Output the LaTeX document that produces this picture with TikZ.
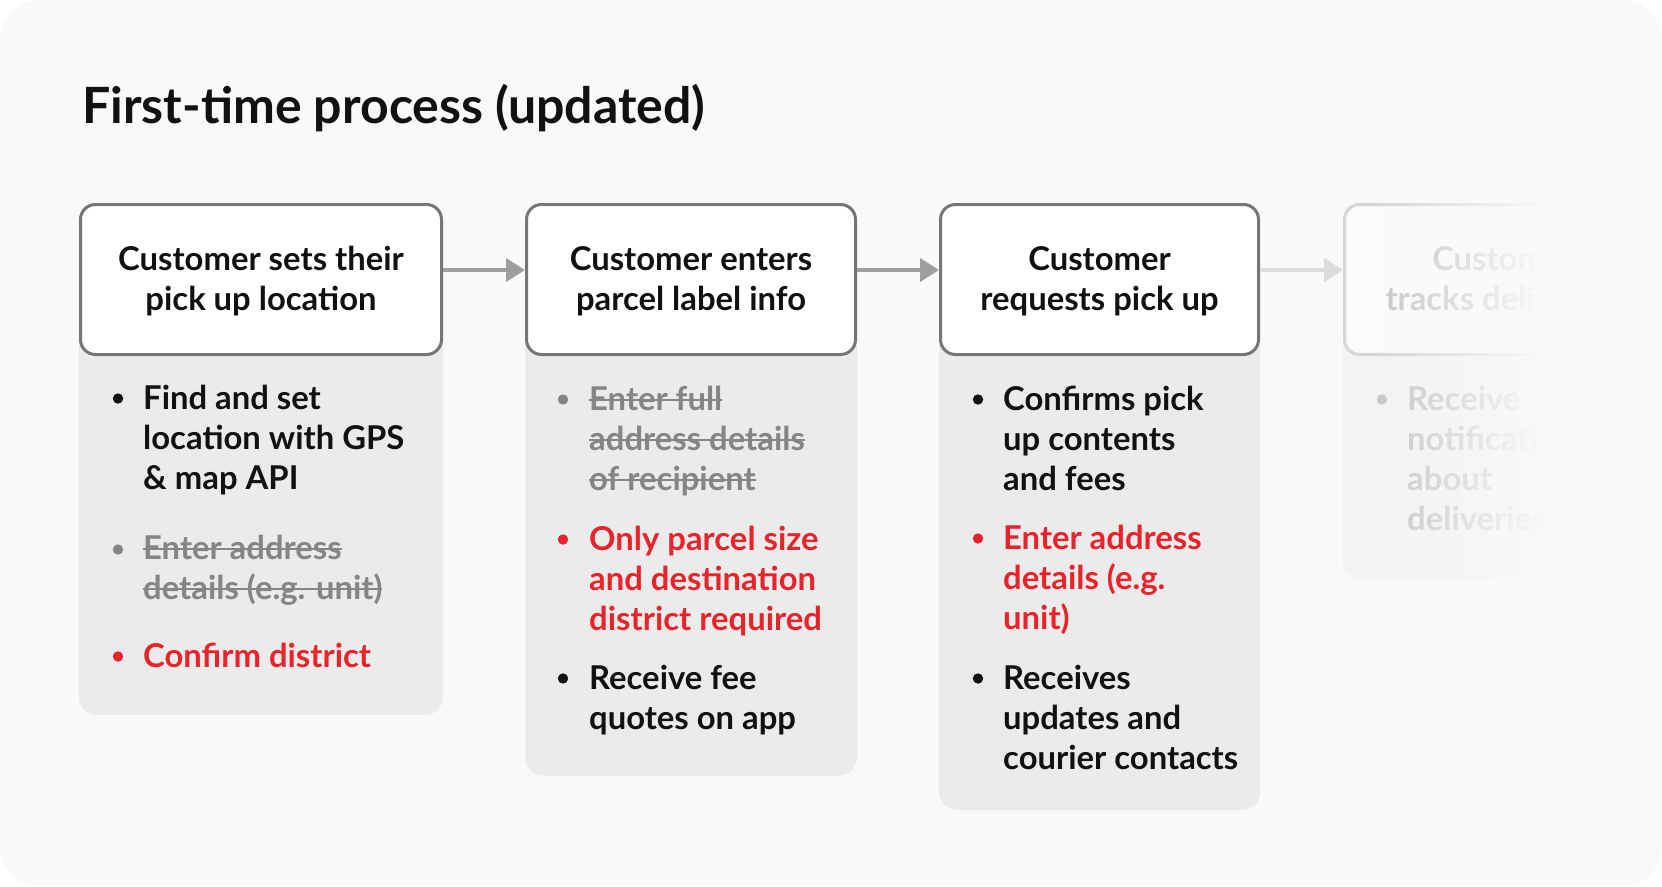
\documentclass[tikz,border=0pt]{standalone}
\usepackage{fontspec}
\setmainfont{Lato}
\newcommand{\strk}[1]{\setbox0\hbox{#1}\rlap{\rule[0.26em]{\wd0}{2pt}}\box0}
\usetikzlibrary{arrows.meta,fadings}
\definecolor{bgc}{HTML}{F9F9F9}
\definecolor{panelc}{HTML}{EBEBEB}
\definecolor{borderc}{HTML}{767676}
\definecolor{arrowc}{HTML}{9E9E9E}
\definecolor{txt}{HTML}{111111}
\definecolor{redc}{HTML}{E8232A}
\definecolor{strikec}{HTML}{858585}
\definecolor{panelf}{HTML}{F3F3F3}
\definecolor{boxf}{HTML}{FBFBFB}
\definecolor{borderf}{HTML}{D6D6D6}
\definecolor{txtf}{HTML}{C8C8C8}
\definecolor{arrowf}{HTML}{DCDCDC}
\tikzfading[name=fadeinR, left color=transparent!100, right color=transparent!0]
\begin{document}
\begin{tikzpicture}[x=1pt,y=-1pt,
  hdr/.style={font=\bfseries\fontsize{32.8}{40}\selectfont, text=txt, align=center, anchor=base, inner sep=0pt},
  item/.style={font=\bfseries\fontsize{32.8}{40}\selectfont, align=left, anchor=base west, inner sep=0pt},
  stepbox/.style={draw=borderc, line width=3pt, fill=white, rounded corners=15pt, minimum height=150pt, inner sep=0pt},
  panel/.style={fill=panelc, rounded corners=18pt},
  flow/.style={draw=arrowc, line width=4pt, -{Triangle[length=19pt,width=23pt]}},
]
\useasboundingbox (0,0) rectangle (1662,886);
\fill[white] (0,0) rectangle (1662,886);
\fill[bgc, rounded corners=40pt] (0,0) rectangle (1662,886);

\node[anchor=base west, inner sep=0pt, text=txt, font=\bfseries\fontsize{50}{58}\selectfont] (title) at (82,123) {First-time process (updated)};

% panels
\fill[panel] (79,240) rectangle (443,715);
\fill[panel] (525,240) rectangle (857,775.5);
\fill[panel] (939,240) rectangle (1260,810);

% boxes
\node[stepbox, minimum width=361pt] (b1) at (261,279.5) {};
\node[stepbox, minimum width=329pt] (b2) at (691,279.5) {};
\node[stepbox, minimum width=318pt] (b3) at (1099.5,279.5) {};

\node[hdr] (t1) at (261,310) {Customer sets their\\pick up location};
\node[hdr] (t2) at (691,310) {Customer enters\\parcel label info};
\node[hdr] (t3) at (1099.5,310) {Customer\\requests pick up};

\draw[flow] ([yshift=9.5pt]b1.east) -- ([yshift=9.5pt]b2.west);
\draw[flow] ([yshift=9.5pt]b2.east) -- ([yshift=9.5pt]b3.west);

% column 1
\fill[txt] (118,398.5) circle (5.2pt);
\node[item, text=txt] (i11) at (143,489) {Find and set\\location with GPS\\\& map API};
\fill[strikec] (118,549.5) circle (5.2pt);
\node[item, text=strikec] (i12) at (143,599) {\strk{Enter address}\\\strk{details (e.g. unit)}};
\fill[redc] (118,656.5) circle (5.2pt);
\node[item, text=redc] (i13) at (143,667) {Confirm district};

% column 2
\fill[strikec] (563,399.5) circle (5.2pt);
\node[item, text=strikec] (i21) at (589,490) {\strk{Enter full}\\\strk{address details}\\\strk{of recipient}};
\fill[redc] (563,539.5) circle (5.2pt);
\node[item, text=redc] (i22) at (589,630) {Only parcel size\\and destination\\district required};
\fill[txt] (563,678.5) circle (5.2pt);
\node[item, text=txt] (i23) at (589,729) {Receive fee\\quotes on app};

% column 3
\fill[txt] (978,399.5) circle (5.2pt);
\node[item, text=txt] (i31) at (1003,490) {Confirms pick\\up contents\\and fees};
\fill[redc] (978,538.5) circle (5.2pt);
\node[item, text=redc] (i32) at (1003,629) {Enter address\\details (e.g.\\unit)};
\fill[txt] (978,678.5) circle (5.2pt);
\node[item, text=txt] (i33) at (1003,769) {Receives\\updates and\\courier contacts};

% column 4 (faded)
\begin{scope}
\clip (0,0) rectangle (1662,886);
\fill[panel, fill=panelf] (1343,240) rectangle (1665,580);
\node[stepbox, draw=borderf, fill=boxf, minimum width=318pt] (b4) at (1503.5,279.5) {};
\node[hdr, text=txtf] (t4) at (1503.5,310) {Customer\\tracks deliveries};
\draw[flow, draw=arrowf] ([yshift=9.5pt]b3.east) -- ([yshift=9.5pt]b4.west);
\fill[txtf] (1382,399.5) circle (5.2pt);
\node[item, text=txtf] (i41) at (1407,530) {Receive\\notifications\\about\\deliveries};
\fill[bgc, path fading=fadeinR] (1378,190) rectangle (1545,600);
\fill[bgc] (1544,190) rectangle (1662,600);
\end{scope}
\end{tikzpicture}
\end{document}
